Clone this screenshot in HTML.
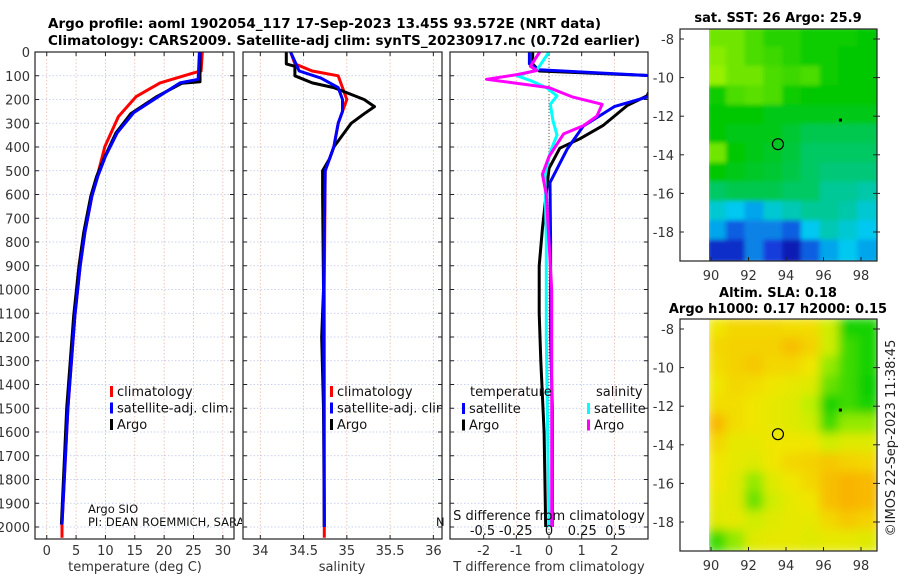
<!DOCTYPE html>
<html><head><meta charset="utf-8">
<style>
html,body{margin:0;padding:0;background:#fff;}
svg{display:block;font-family:"DejaVu Sans","Liberation Sans",sans-serif;}
</style></head>
<body>
<svg id="fig" width="900" height="580" viewBox="0 0 900 580" xmlns="http://www.w3.org/2000/svg">
<text x="48" y="28" font-size="13.5" font-weight="bold">Argo profile: aoml 1902054_117 17-Sep-2023 13.45S 93.572E (NRT data)</text>
<text x="48" y="45" font-size="13.5" font-weight="bold">Climatology: CARS2009. Satellite-adj clim: synTS_20230917.nc (0.72d earlier)</text>
<g id="g"></g>
</svg>
<script>
// ---------- data ----------
const depthTicks=[0,100,200,300,400,500,600,700,800,900,1000,1100,1200,1300,1400,1500,1600,1700,1800,1900,2000];
const tempTicks=[0,5,10,15,20,25,30];
const salTicks=[34,34.5,35,35.5,36];
const tdiffTicks=[-2,-1,0,1,2];
const sdiffTicks=[-0.5,-0.25,0,0.25,0.5];
const latTicks=[-8,-10,-12,-14,-16,-18];
const lonTicks=[90,92,94,96,98];

const tClimDepth=[0,80,88,130,188,272,398,524,607,760,900,1110,1500,1990,2045];
const tClimVal=[26.5,26.3,25,19.3,15.2,12.2,9.9,8.6,7.7,6.5,5.7,4.8,3.6,2.6,2.6];
const tSatDepth=[0,115,130,188,256,340,440,524,607,760,900,1110,1500,1990];
const tSatVal=[26.0,25.8,22.7,19.0,14.8,12.0,10.0,8.7,7.7,6.5,5.7,4.8,3.6,2.6];
const tArgoDepth=[0,125,132,190,260,340,440,524,607,760,900,1110,1500,1990];
const tArgoVal=[26.1,26.1,23,18.6,14.3,11.8,9.9,8.5,7.5,6.3,5.5,4.6,3.4,2.5];

const sClimDepth=[0,50,80,100,150,200,250,300,400,500,1000,2000,2045];
const sClimVal=[34.35,34.4,34.6,34.9,34.95,35.0,34.95,34.9,34.85,34.75,34.74,34.74,34.74];
const sSatDepth=[0,80,110,150,200,250,300,400,500,1000,2000];
const sSatVal=[34.35,34.45,34.7,34.9,34.95,34.95,34.9,34.85,34.75,34.73,34.74];
const sArgoDepth=[0,50,60,100,130,150,200,230,260,300,350,400,450,500,600,1000,1200,1500,2000];
const sArgoVal=[34.3,34.3,34.4,34.4,34.6,34.85,35.2,35.32,35.2,35.05,34.95,34.85,34.8,34.72,34.72,34.73,34.71,34.73,34.74];

const dtSatDepth=[0,50,75,100,150,190,230,312,410,550,800,1200,1500,2000];
const dtSatVal=[-0.6,-0.6,-0.3,3.2,3.3,3.0,2.0,1.05,0.55,0.03,0.05,0.05,0.1,0.1];
const dtArgoDepth=[0,50,80,100,185,225,310,365,405,490,740,900,1100,1300,1600,2000];
const dtArgoVal=[-0.5,-0.5,-0.3,3.3,3.0,2.4,1.65,0.95,0.33,0,-0.2,-0.3,-0.3,-0.25,-0.15,-0.1];
const dsSatDepth=[0,75,100,120,150,185,220,290,350,420,520,800,1200,2000];
const dsSatVal=[0.0,-0.09,-0.24,-0.14,-0.02,0.06,0.01,0.03,0.06,0.01,-0.03,-0.02,-0.02,0.0];
const dsArgoDepth=[0,60,78,95,115,150,190,220,270,310,345,440,515,600,1000,2000];
const dsArgoVal=[-0.07,-0.14,-0.09,-0.24,-0.47,0.0,0.18,0.4,0.36,0.26,0.11,0.0,-0.05,-0.02,0.02,0.02];

const sstGrid=[
[.85,.85,.8,.75,.75,.72,.72,.72,.7],
[.88,.85,.8,.78,.75,.72,.72,.7,.7],
[.9,.85,.85,.8,.78,.8,.72,.7,.7],
[.72,.8,.82,.8,.72,.7,.7,.7,.7],
[.7,.7,.7,.68,.68,.68,.68,.68,.68],
[.7,.68,.68,.68,.65,.62,.62,.62,.62],
[.85,.7,.68,.66,.64,.6,.6,.6,.6],
[.7,.68,.66,.65,.63,.6,.58,.58,.58],
[.6,.62,.62,.62,.6,.6,.55,.55,.52],
[.45,.4,.35,.45,.5,.55,.55,.52,.45],
[.35,.25,.3,.3,.25,.4,.5,.45,.4],
[.15,.15,.3,.2,.1,.25,.35,.4,.35]];
const slaGrid=[
[.65,.7,.7,.7,.68,.68,.55,.3,.3],
[.7,.72,.72,.72,.78,.72,.55,.35,.3],
[.68,.72,.75,.7,.7,.65,.45,.35,.3],
[.65,.7,.68,.65,.62,.6,.4,.35,.25],
[.68,.68,.65,.62,.6,.5,.3,.35,.3],
[.8,.68,.65,.62,.6,.55,.35,.45,.45],
[.7,.62,.62,.65,.65,.65,.55,.6,.6],
[.65,.62,.6,.65,.7,.72,.75,.72,.7],
[.65,.6,.45,.6,.65,.7,.78,.82,.8],
[.62,.6,.4,.55,.62,.65,.78,.82,.8],
[.6,.62,.55,.6,.62,.62,.7,.75,.72],
[.35,.45,.6,.62,.62,.6,.62,.62,.6]];
const floatLon=93.57, floatLat=-13.45;
const otherLon=96.9, otherLat=-12.2;

// ---------- helpers ----------
const NS="http://www.w3.org/2000/svg";
const G=document.getElementById('g');
function el(tag,attrs,parent,txt){const e=document.createElementNS(NS,tag);for(const k in attrs)e.setAttribute(k,attrs[k]);if(txt!==undefined)e.textContent=txt;(parent||G).appendChild(e);return e;}
const PT=52,PB=539;
const yD=d=>PT+d*0.2375;

function panel(x0,x1,xmin,xmax,ticks,nm,fmt){
  const xs=v=>x0+(v-xmin)/(xmax-xmin)*(x1-x0);
  const g=el('g',{});
  
  
  ticks.forEach(t=>{const l=el('line',{x1:xs(t),x2:xs(t),y1:PT,y2:PB,stroke:'#e6b9a8','stroke-width':0.8,'stroke-dasharray':'1.5,2'},g);
    });
  depthTicks.forEach(d=>{const l=el('line',{x1:x0,x2:x1,y1:yD(d),y2:yD(d),stroke:'#b9c4ea','stroke-width':0.8,'stroke-dasharray':'1.5,2'},g);
    
    el('line',{x1:x0,x2:x0+4,y1:yD(d),y2:yD(d),stroke:'#222'},g);el('line',{x1:x1-4,x2:x1,y1:yD(d),y2:yD(d),stroke:'#222'},g);});
  ticks.forEach(t=>{el('line',{x1:xs(t),x2:xs(t),y1:PB-4,y2:PB,stroke:'#222'},g);el('line',{x1:xs(t),x2:xs(t),y1:PT,y2:PT+4,stroke:'#222'},g);
    if(fmt){const tx=el('text',{x:xs(t),y:PB+16,'text-anchor':'middle','font-size':13,fill:'#333'},g,fmt(t));
    }});
  return {g,xs,x0,x1};
}
function line(p,ds,vs,color,w,nm){
  const pts=ds.map((d,i)=>p.xs(vs[i]).toFixed(1)+','+yD(d).toFixed(1)).join(' ');
  const l=el('polyline',{points:pts,fill:'none',stroke:color,'stroke-width':w,'stroke-linejoin':'round'},p.g);
  l.setAttribute('clip-path','url(#'+p.clip+')');
  
  
}
function frame(p){el('rect',{x:p.x0,y:PT,width:p.x1-p.x0,height:PB-PT,fill:'none',stroke:'#222','stroke-width':1.2},p.g);}
const defs=el('defs',{});
function clip(id,x0,x1){const c=el('clipPath',{id:id},defs);el('rect',{x:x0,y:PT,width:x1-x0,height:PB-PT},c);}

// ---------- panel 1 ----------
clip('c1',35,234);clip('c2',243,442);clip('c3',450,648);
const p1=panel(35,234,-2.0,31.9,tempTicks,'temperature-panel',t=>String(t));p1.clip='c1';
depthTicks.forEach(d=>{const t=el('text',{x:30,y:yD(d)+5,'text-anchor':'end','font-size':13,fill:'#333'},p1.g,String(d));
  });
line(p1,tClimDepth,tClimVal,'#f00',3,'temp-climatology-line');
line(p1,tArgoDepth,tArgoVal,'#000',3,'temp-argo-line');
line(p1,tSatDepth,tSatVal,'#00f',3,'temp-satellite-line');
el('text',{x:135,y:571,'text-anchor':'middle','font-size':13,fill:'#333',},p1.g,'temperature (deg C)');
el('text',{x:88,y:513,'font-size':11.5,fill:'#111',},p1.g,'Argo SIO');
const pc=el('clipPath',{id:'piclip'},defs);el('rect',{x:0,y:500,width:242,height:40},pc);
el('text',{x:88,y:526,'font-size':11.5,fill:'#111','clip-path':'url(#piclip)',},p1.g,'PI: DEAN ROEMMICH, SARAH');
function legend(g,x,y,items){items.forEach((it,i)=>{
  el('rect',{x:x,y:y+i*16.5-6,width:3,height:11,fill:it[1]},g);
  const t=el('text',{x:x+7,y:y+i*16.5+4,'font-size':13,fill:'#111'},g,it[0]);
  });}
legend(p1.g,110,392,[['climatology','#f00'],['satellite-adj. clim.','#00f'],['Argo','#000']]);
frame(p1);

// ---------- panel 2 ----------
const p2=panel(243,442,33.8,36.1,salTicks,'salinity-panel',t=>String(t));p2.clip='c2';
line(p2,sClimDepth,sClimVal,'#f00',3,'sal-climatology-line');
line(p2,sArgoDepth,sArgoVal,'#000',3,'sal-argo-line');
line(p2,sSatDepth,sSatVal,'#00f',3,'sal-satellite-line');
el('text',{x:342,y:571,'text-anchor':'middle','font-size':13,fill:'#333',},p2.g,'salinity');
const lc=el('clipPath',{id:'lclip'},defs);el('rect',{x:243,y:380,width:199,height:60},lc);
const lg2=el('g',{'clip-path':'url(#lclip)'},p2.g);
legend(lg2,330,392,[['climatology','#f00'],['satellite-adj. clim.','#00f'],['Argo','#000']]);
el('text',{x:436,y:526,'font-size':11.5,fill:'#111'},p2.g,'N');
frame(p2);

// ---------- panel 3 ----------
const p3=panel(450,648,-3.03,3.03,tdiffTicks,'difference-panel',t=>String(t));p3.clip='c3';
const p3s={g:p3.g,clip:'c3',xs:v=>549+v*133};
el('line',{x1:549,x2:549,y1:PT,y2:PB,stroke:'#555','stroke-dasharray':'1,2'},p3.g);
line(p3,dtArgoDepth,dtArgoVal,'#000',3,'tdiff-argo-line');
line(p3,dtSatDepth,dtSatVal,'#00f',3,'tdiff-satellite-line');
line(p3s,dsSatDepth,dsSatVal,'#0ff',3,'sdiff-satellite-line');
line(p3s,dsArgoDepth,dsArgoVal,'#f0f',3,'sdiff-argo-line');
el('text',{x:549,y:571,'text-anchor':'middle','font-size':13,fill:'#333',},p3.g,'T difference from climatology');
el('text',{x:549,y:520,'text-anchor':'middle','font-size':13,fill:'#111',},p3.g,'S difference from climatology');
sdiffTicks.forEach(t=>{const tx=el('text',{x:p3s.xs(t),y:535,'text-anchor':'middle','font-size':13,fill:'#111'},p3.g,String(t));
  });
el('text',{x:470,y:396,'font-size':13,fill:'#111'},p3.g,'temperature');
el('text',{x:596,y:396,'font-size':13,fill:'#111'},p3.g,'salinity');
legend(p3.g,462,409,[['satellite','#00f'],['Argo','#000']]);
legend(p3.g,587,409,[['satellite','#0ff'],['Argo','#f0f']]);
frame(p3);

// ---------- maps ----------
function interp(s,v){for(let i=1;i<s.length;i++){if(v<=s[i][0]){const a=s[i-1],b=s[i],f=(v-a[0])/(b[0]-a[0]);return 'rgb('+a[1].map((c,k)=>Math.round(c+(b[1][k]-c)*f)).join(',')+')';}}return 'rgb('+s[s.length-1][1].join(',')+')';}
function sstColor(v){const stops=[[0,[0,0,140]],[.2,[20,60,220]],[.4,[0,200,240]],[.55,[0,200,150]],[.7,[0,200,0]],[.9,[150,240,0]],[1,[200,250,0]]];return interp(stops,v);}
function slaColor(v){const stops=[[0,[0,180,0]],[.3,[20,210,0]],[.5,[190,240,0]],[.65,[240,230,0]],[.85,[250,170,0]],[1,[240,120,0]]];return interp(stops,v);}
function map(y0,y1,grid,cf,nm,blur){
  const x0=680,x1=877;
  const lx=lon=>711+(lon-90)*18.75;
  const ly=lat=>(y0+10)+(-8-lat)*(y1-y0-39)/10;
  const g=el('g',{});
  
  const cid='mc'+y0;const c=el('clipPath',{id:cid},defs);el('rect',{x:709,y:y0,width:x1-709,height:y1-y0},c);
  const fid='mf'+y0;const f=el('filter',{id:fid,x:'-10%',y:'-10%',width:'120%',height:'120%'},defs);el('feGaussianBlur',{stdDeviation:blur},f);
  const inner=el('g',{'clip-path':'url(#'+cid+')'},g);
  const cells=el('g',{filter:'url(#'+fid+')'},inner);
  grid.forEach((row,r)=>row.forEach((v,ci)=>{
    const lon=89.9+ci*1.0, lat=-7.5-r*1.0;
    const rc=el('rect',{x:lx(lon)-2,y:ly(lat)-2,width:18.75+4,height:(ly(lat-1)-ly(lat))+4,fill:cf(v)},cells);
    
  }));
  el('rect',{x:x0,y:y0,width:x1-x0,height:y1-y0,fill:'none',stroke:'#222','stroke-width':1.2},g);
  latTicks.forEach(t=>{el('line',{x1:x0,x2:x0+4,y1:ly(t),y2:ly(t),stroke:'#222'},g);el('line',{x1:x1-4,x2:x1+3,y1:ly(t),y2:ly(t),stroke:'#222'},g);
    const tx=el('text',{x:674,y:ly(t)+5,'text-anchor':'end','font-size':13,fill:'#333'},g,String(t));});
  lonTicks.forEach(t=>{el('line',{x1:lx(t),x2:lx(t),y1:y1-4,y2:y1,stroke:'#222'},g);
    const tx=el('text',{x:lx(t),y:y1+19,'text-anchor':'middle','font-size':13,fill:'#333'},g,String(t));});
  const fc=el('circle',{cx:lx(floatLon),cy:ly(floatLat),r:5.5,fill:'none',stroke:'#000','stroke-width':1.2},g);
  
  el('rect',{x:lx(otherLon)-1.5,y:ly(otherLat)-1.5,width:3,height:3,fill:'#000'},g);
}
map(29,261,sstGrid,sstColor,'sst-map',2);
map(319,551,slaGrid,slaColor,'sla-map',5);
el('text',{x:778,y:22,'text-anchor':'middle','font-size':13,'font-weight':'bold',},G,'sat. SST: 26 Argo: 25.9');
el('text',{x:778,y:297,'text-anchor':'middle','font-size':13,'font-weight':'bold',},G,'Altim. SLA: 0.18');
el('text',{x:778,y:313,'text-anchor':'middle','font-size':13,'font-weight':'bold',},G,'Argo h1000: 0.17 h2000: 0.15');
el('text',{x:0,y:0,'text-anchor':'middle','font-size':13,fill:'#222',transform:'translate(895,438) rotate(-90)',},G,'©IMOS 22-Sep-2023 11:38:45');
</script>
</body></html>
